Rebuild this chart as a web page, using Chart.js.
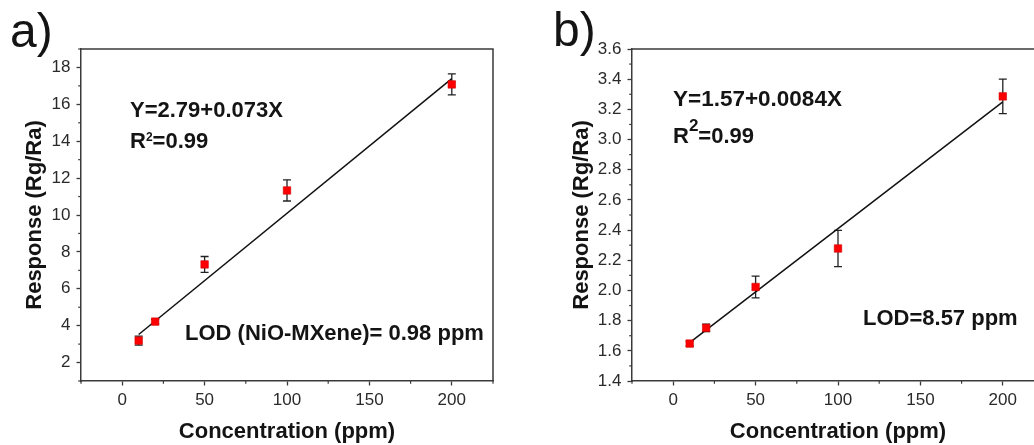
<!DOCTYPE html>
<html>
<head>
<meta charset="utf-8">
<title>Response vs concentration</title>
<script src="https://cdn.jsdelivr.net/npm/chart.js@4.4.1/dist/chart.umd.min.js"></script>
<style>
  html, body { margin: 0; padding: 0; background: #fff; overflow: hidden; }
  #wrap { position: relative; width: 1034px; height: 445px; overflow: hidden; }
  #cA { position: absolute; left: 0; top: 0; }
  #cB { position: absolute; left: 520px; top: 0; }
</style>
</head>
<body>
<div id="wrap">
  <canvas id="cA" width="520" height="445"></canvas>
  <canvas id="cB" width="540" height="445"></canvas>
</div>
<script>
// concentrations (ppm), same for both panels
const conc = [10, 20, 50, 100, 200];

// panel a – NiO-MXene
const respA = [3.19, 4.22, 7.32, 11.33, 17.08];
const errA  = [0.24, 0.12, 0.43, 0.57, 0.57];
const fitXA = [10, 200];
const fitYA = [3.52, 17.39];

// panel b
const respB = [1.648, 1.752, 2.023, 2.278, 3.286];
const errB  = [0.016, 0.025, 0.072, 0.12, 0.114];
const fitXB = [10, 200];
const fitYB = [1.654, 3.25];

const FONT = "'Liberation Sans', Arial, sans-serif";
const AXIS = '#3a3a3a';
const INK  = '#141414';

const isMajorX  = v => v % 50 === 0;
const isMajorYA = v => v % 2 === 0;
const isMajorYB = v => Math.round(v * 10) % 2 === 0;

// frame: top + right edge of the plot box
const framePlugin = {
  id: 'frame',
  afterDraw(chart) {
    const { ctx, chartArea: a } = chart;
    ctx.save();
    ctx.strokeStyle = AXIS;
    ctx.lineWidth = 1.5;
    ctx.beginPath();
    ctx.moveTo(a.left, a.top);
    ctx.lineTo(a.right, a.top);
    ctx.lineTo(a.right, a.bottom);
    ctx.stroke();
    ctx.restore();
  }
};

// shorter minor ticks (the major ones come from the grid)
const minorTickPlugin = {
  id: 'minorTicks',
  afterDraw(chart) {
    const { ctx, scales } = chart;
    ctx.save();
    ctx.strokeStyle = AXIS;
    ctx.lineWidth = 1.2;
    scales.x.ticks.forEach(t => {
      if (t.label !== '') return;
      const px = scales.x.getPixelForValue(t.value);
      ctx.beginPath(); ctx.moveTo(px, scales.x.top); ctx.lineTo(px, scales.x.top + 2.8); ctx.stroke();
    });
    scales.y.ticks.forEach(t => {
      if (t.label !== '') return;
      const py = scales.y.getPixelForValue(t.value);
      ctx.beginPath(); ctx.moveTo(scales.y.right, py); ctx.lineTo(scales.y.right - 2.8, py); ctx.stroke();
    });
    ctx.restore();
  }
};

// vertical error bars with caps, under the markers
const errorBarPlugin = {
  id: 'errorBars',
  beforeDatasetsDraw(chart, args, opts) {
    const { ctx, scales: { x, y } } = chart;
    const pts = chart.data.datasets[0].data;
    ctx.save();
    ctx.strokeStyle = '#222';
    ctx.lineWidth = 1.3;
    pts.forEach((p, i) => {
      const e = opts.errors[i];
      const px = x.getPixelForValue(p.x);
      const top = y.getPixelForValue(p.y + e);
      const bot = y.getPixelForValue(p.y - e);
      ctx.beginPath();
      ctx.moveTo(px, top); ctx.lineTo(px, bot);
      ctx.moveTo(px - 4, top); ctx.lineTo(px + 4, top);
      ctx.moveTo(px - 4, bot); ctx.lineTo(px + 4, bot);
      ctx.stroke();
    });
    ctx.restore();
  }
};

// free text: panel letter, fit equation, LOD
const textPlugin = {
  id: 'notes',
  afterDraw(chart, args, opts) {
    const ctx = chart.ctx;
    ctx.save();
    ctx.fillStyle = INK;
    ctx.textBaseline = 'alphabetic';
    ctx.textAlign = 'left';
    opts.items.forEach(item => {
      let x = item.x;
      item.parts.forEach(p => {
        ctx.font = `${p.bold ? 'bold ' : ''}${p.size}px ${FONT}`;
        ctx.fillText(p.t, x, item.y - (p.dy || 0));
        x += ctx.measureText(p.t).width;
      });
    });
    ctx.restore();
  }
};

function xScale() {
  return {
    type: 'linear',
    min: -25, max: 225,
    afterFit: s => { s.height = 64; },
    border: { color: AXIS, width: 1.5 },
    grid: {
      drawOnChartArea: false, tickLength: 4.5, tickWidth: 1.3,
      tickColor: c => (c.tick && isMajorX(c.tick.value)) ? AXIS : 'rgba(0,0,0,0)'
    },
    ticks: {
      stepSize: 25, autoSkip: false, maxRotation: 0, padding: 5,
      color: '#2a2a2a', font: { family: FONT, size: 17 },
      callback: v => isMajorX(v) ? String(v) : ''
    },
    title: {
      display: true, text: 'Concentration (ppm)', color: INK,
      font: { family: FONT, size: 22, weight: 'bold' }, padding: { top: 0, bottom: 0 }
    }
  };
}

function yScale(min, max, step, isMajor, fmt, width, titlePad) {
  return {
    type: 'linear',
    min, max,
    afterFit: s => { s.width = width; },
    border: { color: AXIS, width: 1.5 },
    grid: {
      drawOnChartArea: false, tickLength: 4.5, tickWidth: 1.3,
      tickColor: c => (c.tick && isMajor(c.tick.value)) ? AXIS : 'rgba(0,0,0,0)'
    },
    ticks: {
      stepSize: step, autoSkip: false, padding: 6,
      color: '#2a2a2a', font: { family: FONT, size: 17 },
      callback: v => isMajor(v) ? fmt(v) : ''
    },
    title: {
      display: true, text: 'Response (Rg/Ra)', color: INK,
      font: { family: FONT, size: 22, weight: 'bold' }, padding: { top: titlePad, bottom: 0 }
    }
  };
}

function datasets(resp, fitX, fitY) {
  return [
    {
      label: 'Response',
      data: conc.map((c, i) => ({ x: c, y: resp[i] })),
      pointStyle: 'rect',
      pointRadius: 5.3,
      backgroundColor: '#ff0000',
      borderColor: '#cc0000',
      borderWidth: 0.6,
      showLine: false
    },
    {
      label: 'Fit',
      data: fitX.map((c, i) => ({ x: c, y: fitY[i] })),
      showLine: true,
      pointRadius: 0,
      borderColor: '#111',
      borderWidth: 1.5,
      fill: false
    }
  ];
}

const B = true;

new Chart(document.getElementById('cA'), {
  type: 'scatter',
  data: { datasets: datasets(respA, fitXA, fitYA) },
  options: {
    responsive: false,
    animation: false,
    layout: { padding: { left: 0, top: 49, right: 27, bottom: 0 } },
    scales: {
      x: xScale(),
      y: yScale(1, 19, 1, isMajorYA, v => String(v), 81, 22)
    },
    plugins: {
      legend: { display: false },
      tooltip: { enabled: false },
      errorBars: { errors: errA },
      notes: {
        items: [
          { x: 10, y: 47, parts: [{ t: 'a)', size: 48 }] },
          { x: 130, y: 117, parts: [{ t: 'Y=2.79+0.073X', size: 22, bold: B }] },
          { x: 130, y: 148, parts: [
            { t: 'R', size: 22, bold: B },
            { t: '2', size: 12, bold: B, dy: 7 },
            { t: '=0.99', size: 22, bold: B }
          ] },
          { x: 185, y: 340, parts: [{ t: 'LOD (NiO-MXene)= 0.98 ppm', size: 22, bold: B }] }
        ]
      }
    }
  },
  plugins: [errorBarPlugin, framePlugin, minorTickPlugin, textPlugin]
});

new Chart(document.getElementById('cB'), {
  type: 'scatter',
  data: { datasets: datasets(respB, fitXB, fitYB) },
  options: {
    responsive: false,
    animation: false,
    layout: { padding: { left: 0, top: 49, right: 16, bottom: 0 } },
    scales: {
      x: xScale(),
      y: yScale(1.4, 3.6, 0.1, isMajorYB, v => v.toFixed(1), 112, 48.5)
    },
    plugins: {
      legend: { display: false },
      tooltip: { enabled: false },
      errorBars: { errors: errB },
      notes: {
        items: [
          { x: 33, y: 46, parts: [{ t: 'b)', size: 48 }] },
          { x: 153, y: 106, parts: [{ t: 'Y=1.57+0.0084X', size: 22.5, bold: B }] },
          { x: 153, y: 143, parts: [
            { t: 'R', size: 22, bold: B },
            { t: '2', size: 17, bold: B, dy: 12 },
            { t: '=0.99', size: 22, bold: B }
          ] },
          { x: 343, y: 325, parts: [{ t: 'LOD=8.57 ppm', size: 22, bold: B }] }
        ]
      }
    }
  },
  plugins: [errorBarPlugin, framePlugin, minorTickPlugin, textPlugin]
});
</script>
</body>
</html>
